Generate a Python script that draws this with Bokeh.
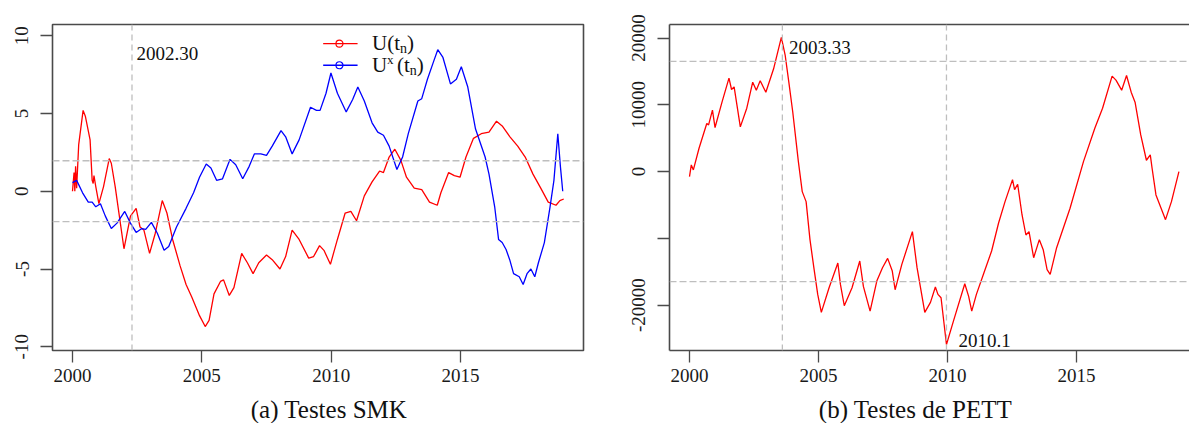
from bokeh.plotting import figure
from bokeh.models import FixedTicker, Span, Label, LinearAxis
from bokeh.layouts import row, column
from bokeh.embed import file_html
from bokeh.resources import INLINE

# ---------------- data ----------------
BASE = 2000.0
# SMK: U(t_n), progressive series (years since 2000, value)
smk_u_t = [0.00, 0.06, 0.09, 0.12, 0.16, 0.24, 0.41, 0.50, 0.68, 0.76, 0.80, 0.83, 0.90,
           1.02, 1.20, 1.42, 1.50, 1.65, 1.99, 2.24, 2.46, 2.61, 2.76, 2.98, 3.20, 3.47,
           3.65, 3.87, 4.16, 4.39, 4.61, 4.91, 5.13, 5.28, 5.47, 5.72, 5.84, 6.06, 6.24,
           6.54, 6.76, 6.98, 7.20, 7.50, 7.72, 8.02, 8.24, 8.49, 8.76, 9.13, 9.32, 9.55,
           9.72, 9.97, 10.24, 10.54, 10.76, 10.98, 11.28, 11.58, 11.87, 12.02, 12.24, 12.46,
           12.69, 12.91, 13.21, 13.50, 13.80, 14.10, 14.24, 14.54, 14.76, 14.98, 15.21,
           15.50, 15.80, 16.10, 16.39, 16.61, 16.91, 17.21, 17.50, 17.80, 18.10, 18.39,
           18.69, 18.84, 18.99]
smk_u_v = [0.0, 1.2, 0.0, 1.6, 0.2, 3.0, 5.2, 4.8, 3.3, 0.7, 0.5, 1.0, 0.3,
           -0.8, 0.3, 2.1, 1.8, 0.3, -3.7, -1.6, -1.1, -2.3, -2.5, -4.0, -2.7, -0.6,
           -1.4, -3.1, -4.8, -6.0, -6.8, -8.0, -8.7, -8.3, -6.6, -5.8, -5.7, -6.7, -6.2,
           -4.0, -4.6, -5.3, -4.6, -4.1, -4.4, -5.0, -4.2, -2.5, -3.1, -4.3, -4.2, -3.5,
           -3.8, -4.7, -3.1, -1.4, -1.3, -1.9, -0.3, 0.6, 1.3, 1.2, 2.2, 2.7,
           2.0, 0.9, 0.2, 0.1, -0.7, -0.9, -0.1, 1.2, 1.0, 0.9, 2.2,
           3.4, 3.7, 3.8, 4.5, 4.2, 3.5, 2.9, 2.2, 1.1, 0.2, -0.7,
           -0.9, -0.6, -0.5]

# SMK: U*(t_n), retrograde series
smk_ux_t = [0.00, 0.16, 0.39, 0.61, 0.76, 0.90, 1.08, 1.27, 1.50, 1.72, 2.02, 2.24, 2.46,
            2.68, 2.83, 3.05, 3.28, 3.54, 3.72, 4.02, 4.39, 4.68, 4.91, 5.17, 5.35, 5.57,
            5.80, 6.09, 6.31, 6.58, 6.83, 7.03, 7.28, 7.50, 7.72, 8.06, 8.24, 8.49, 8.76,
            9.20, 9.43, 9.57, 9.80, 9.99, 10.24, 10.58, 10.83, 11.03, 11.28, 11.58, 11.80,
            12.02, 12.24, 12.54, 12.76, 12.98, 13.35, 13.50, 13.72, 13.95, 14.12, 14.32,
            14.61, 14.84, 15.03, 15.28, 15.58, 15.95, 16.10, 16.32, 16.47, 16.61, 16.76,
            16.90, 17.05, 17.27, 17.42, 17.57, 17.72, 17.87, 18.01, 18.24, 18.46, 18.61,
            18.76, 18.86, 18.95]
smk_ux_v = [0.55, 0.7, -0.1, -0.7, -0.7, -1.0, -0.8, -1.6, -2.4, -2.05, -1.3, -2.05, -2.65,
            -2.4, -2.45, -2.0, -2.7, -3.8, -3.55, -2.3, -1.1, -0.1, 0.9, 1.75, 1.5, 0.7,
            0.8, 2.05, 1.7, 0.8, 1.6, 2.4, 2.4, 2.3, 2.9, 3.9, 3.5, 2.4, 3.3,
            5.4, 5.2, 5.2, 6.3, 7.6, 6.3, 5.1, 5.9, 6.7, 5.8, 4.4, 3.8,
            3.6, 2.9, 1.4, 2.2, 3.7, 5.8, 5.95, 7.2, 8.3, 9.1, 8.6,
            6.9, 7.2, 8.0, 6.7, 4.0, 2.2, 1.1, -1.0, -3.1, -3.3, -3.75,
            -4.4, -5.3, -5.5, -6.0, -5.3, -5.0, -5.5, -4.6, -3.3, -1.0, 0.7,
            3.7, 1.6, 0.0]

# PETT statistic
pett_t = [0.00, 0.07, 0.15, 0.37, 0.67, 0.74, 0.89, 0.99, 1.26, 1.53, 1.63, 1.73, 1.97,
          2.22, 2.45, 2.59, 2.74, 2.96, 3.26, 3.56, 3.71, 3.85, 4.00, 4.22, 4.37, 4.52,
          4.67, 4.82, 4.97, 5.11, 5.41, 5.75, 5.85, 6.00, 6.30, 6.60, 6.74, 7.00, 7.26,
          7.48, 7.68, 7.86, 7.97, 8.23, 8.64, 8.82, 9.12, 9.34, 9.53, 9.63, 9.75, 9.96,
          10.23, 10.67, 10.82, 10.94, 11.12, 11.41, 11.71, 11.98, 12.23, 12.52, 12.60,
          12.72, 12.89, 13.04, 13.16, 13.34, 13.56, 13.71, 13.86, 13.98, 14.23, 14.75,
          15.27, 15.71, 16.01, 16.38, 16.53, 16.75, 16.94, 17.12, 17.27, 17.49, 17.71,
          17.86, 17.93, 18.08, 18.38, 18.45, 18.68, 18.97]
pett_v = [-750, 1000, 250, 3500, 7200, 7000, 9200, 6600, 10400, 14000, 12300, 12700, 6700,
          9500, 13400, 12200, 13600, 11900, 15400, 20100, 17400, 13400, 9000, 1500, -3000, -4500,
          -10200, -14400, -18400, -21100, -17400, -13700, -16900, -20100, -17400, -13400,
          -17200, -20900, -16400, -14400, -13000, -14900, -17700, -13900, -9000, -14400,
          -21100, -19600, -17300, -18400, -18900, -25900, -22400, -16800, -18700, -20900,
          -18400, -15200, -11900, -7700, -4500, -1200, -2700, -1900, -6500, -9500, -9000,
          -12900, -10200, -11700, -14700, -15400, -11400, -5500, 1500, 6500, 9500, 14300,
          13700, 12200, 14400, 11900, 10400, 5500, 1700, 2500, 500, -3500, -6500, -7200,
          -4500, 0]

x_ticks = [2000, 2005, 2010, 2015]
smk_y_ticks = [-10, -5, 0, 5, 10]
pett_y_ticks = [-20000, -10000, 0, 10000, 20000]
pett_y_labels = {-20000: "-20000", -10000: "", 0: "0", 10000: "10000", 20000: "20000"}
smk_y_labels = {-10: "-10", -5: "-5", 0: "0", 5: "5", 10: "10"}
smk_crit = 1.96
pett_crit = 16500
smk_change = 2002.30
pett_changes = [2003.60, 2009.96]
smk_change_label = "2002.30"
pett_change_labels = ["2003.33", "2010.1"]
captions = ["(a) Testes SMK", "(b) Testes de PETT"]

smk_u_x = [BASE + t for t in smk_u_t]
smk_ux_x = [BASE + t for t in smk_ux_t]
pett_x = [BASE + t for t in pett_t]

SERIF = "Liberation Serif"
BOX = "#4a4a4a"
GRAYDASH = "#BEBEBE"
TXT = "#111111"


def style_axes(p, yticks, ylabels):
    p.xaxis.ticker = FixedTicker(ticks=x_ticks)
    p.yaxis.ticker = FixedTicker(ticks=yticks)
    p.yaxis.major_label_overrides = ylabels
    p.xgrid.visible = False
    p.ygrid.visible = False
    for ax in p.xaxis + p.yaxis:
        ax.major_tick_out = 12
        ax.major_tick_in = 0
        ax.minor_tick_line_color = None
        ax.major_tick_line_color = BOX
        ax.major_tick_line_width = 1.3
        ax.major_label_text_font = SERIF
        ax.major_label_text_font_size = "19px"
        ax.major_label_text_color = "#1a1a1a"
    for ax in p.xaxis:
        ax.major_label_standoff = 6
    for ax in p.yaxis:
        ax.major_label_standoff = 12
        ax.major_label_orientation = "vertical"


def lab(p, x, y, text, size, xo=0, yo=0, **kw):
    p.add_layout(Label(x=x, y=y, text=text, text_font=SERIF, text_font_size=size,
                       text_color=TXT, x_offset=xo, y_offset=yo,
                       text_baseline="middle", **kw))


# ---------------- left panel: SMK ----------------
p1 = figure(width=600, height=393, output_backend="svg", toolbar_location=None,
            x_range=(1999.227, 2019.753), y_range=(-10.24, 10.72),
            min_border_left=52, min_border_right=17, min_border_top=24, min_border_bottom=42)
style_axes(p1, smk_y_ticks, smk_y_labels)
p1.outline_line_color = BOX
p1.outline_line_width = 1.6
p1.xaxis.axis_line_color = None
p1.yaxis.axis_line_color = None

for loc in (smk_crit, -smk_crit):
    p1.add_layout(Span(location=loc, dimension="width", line_color=GRAYDASH,
                       line_dash="7 3", line_width=1.3))
p1.add_layout(Span(location=smk_change, dimension="height", line_color=GRAYDASH,
                   line_dash="6 4", line_width=1.3))

p1.line(smk_u_x, smk_u_v, line_color="#FF0000", line_width=1.3)
p1.line(smk_ux_x, smk_ux_v, line_color="#0000FF", line_width=1.3)

# change-point annotation
lab(p1, 2002.47, 8.85, smk_change_label, "19px")

# legend (no box), drawn manually to allow sub/superscripts
leg_line_x = [2009.69, 2011.02]
leg_mark_x = 2010.32
leg_text_x = 2011.58
rows_y = [9.49, 8.10]
for col, ly in zip(["#FF0000", "#0000FF"], rows_y):
    p1.line(leg_line_x, [ly, ly], line_color=col, line_width=1.3)
    p1.scatter([leg_mark_x], [ly], marker="circle", size=7, fill_color=None,
               line_color=col, line_width=1.2)

ty0, ty1 = rows_y[0] + 0.06, rows_y[1] + 0.02
lab(p1, leg_text_x, ty0, "U(t", "21px")
lab(p1, leg_text_x, ty0, "n", "14px", xo=28, yo=-6)
lab(p1, leg_text_x, ty0, ")", "21px", xo=35)
lab(p1, leg_text_x, ty1, "U", "21px")
lab(p1, leg_text_x, ty1, "x", "13px", xo=15, yo=5)
lab(p1, leg_text_x, ty1, "(t", "21px", xo=25)
lab(p1, leg_text_x, ty1, "n", "14px", xo=37.8, yo=-6)
lab(p1, leg_text_x, ty1, ")", "21px", xo=44.8)

# ---------------- right panel: PETT ----------------
p2 = figure(width=589, height=393, output_backend="svg", toolbar_location=None,
            x_range=(1999.225, 2019.38), y_range=(-26806, 22040),
            min_border_left=69, min_border_right=0, min_border_top=22, min_border_bottom=43)
style_axes(p2, pett_y_ticks, pett_y_labels)
p2.outline_line_color = None
for ax in p2.xaxis + p2.yaxis:
    ax.axis_line_color = BOX
    ax.axis_line_width = 1.6
top_axis = LinearAxis(ticker=FixedTicker(ticks=[]), axis_line_color=BOX, axis_line_width=1.6,
                      major_tick_line_color=None, minor_tick_line_color=None,
                      major_label_text_font_size="0px")
p2.add_layout(top_axis, "above")

for loc in (pett_crit, -pett_crit):
    p2.add_layout(Span(location=loc, dimension="width", line_color=GRAYDASH,
                       line_dash="7 3", line_width=1.3))
for loc in pett_changes:
    p2.add_layout(Span(location=loc, dimension="height", line_color=GRAYDASH,
                       line_dash="6 4", line_width=1.3))

p2.line(pett_x, pett_v, line_color="#FF0000", line_width=1.3)

lab(p2, 2003.86, 18620, pett_change_labels[0], "19px")
lab(p2, 2010.43, -25320, pett_change_labels[1], "19px")

# ---------------- caption strip (pixel-space figure) ----------------
p3 = figure(width=1189, height=30, output_backend="svg", toolbar_location=None,
            x_range=(0, 1189), y_range=(0, 30),
            min_border_left=0, min_border_right=0, min_border_top=0, min_border_bottom=0)
p3.axis.visible = False
p3.xgrid.visible = False
p3.ygrid.visible = False
p3.outline_line_color = None
caption_x = [328.5, 915]
for cx, txt in zip(caption_x, captions):
    lab(p3, cx, 14, txt, "25px", text_align="center")

layout = column(row(p1, p2, spacing=0), p3, spacing=0)
open("out.html", "w").write(file_html(layout, INLINE))
